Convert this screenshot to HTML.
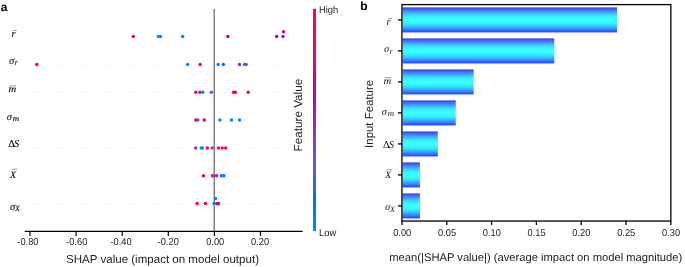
<!DOCTYPE html>
<html><head><meta charset="utf-8"><style>
html,body{margin:0;padding:0;background:#fff;width:685px;height:267px;overflow:hidden}
svg{display:block;will-change:transform;text-rendering:geometricPrecision}

</style></head><body>
<svg width="685" height="267" viewBox="0 0 685 267" font-family='"Liberation Sans", sans-serif'><line x1="25" y1="36.60" x2="297" y2="36.60" stroke="#dcdcdc" stroke-width="0.6" stroke-dasharray="0.6 1.8"/>
<line x1="25" y1="64.43" x2="297" y2="64.43" stroke="#dcdcdc" stroke-width="0.6" stroke-dasharray="0.6 1.8"/>
<line x1="25" y1="92.26" x2="297" y2="92.26" stroke="#dcdcdc" stroke-width="0.6" stroke-dasharray="0.6 1.8"/>
<line x1="25" y1="120.09" x2="297" y2="120.09" stroke="#dcdcdc" stroke-width="0.6" stroke-dasharray="0.6 1.8"/>
<line x1="25" y1="147.92" x2="297" y2="147.92" stroke="#dcdcdc" stroke-width="0.6" stroke-dasharray="0.6 1.8"/>
<line x1="25" y1="175.75" x2="297" y2="175.75" stroke="#dcdcdc" stroke-width="0.6" stroke-dasharray="0.6 1.8"/>
<line x1="25" y1="203.58" x2="297" y2="203.58" stroke="#dcdcdc" stroke-width="0.6" stroke-dasharray="0.6 1.8"/>
<line x1="214.2" y1="9" x2="214.2" y2="231" stroke="#555" stroke-width="1.1"/>
<circle cx="133.3" cy="36.60" r="1.75" fill="#ff0051"/>
<circle cx="158.4" cy="36.60" r="1.75" fill="#008bfb"/>
<circle cx="160.5" cy="36.60" r="1.75" fill="#008bfb"/>
<circle cx="182.7" cy="36.60" r="1.75" fill="#0084f9"/>
<circle cx="227.8" cy="36.60" r="1.75" fill="#bb00a0"/>
<circle cx="276.7" cy="36.60" r="1.75" fill="#bb00a0"/>
<circle cx="283.0" cy="36.60" r="1.75" fill="#ab15a7"/>
<circle cx="283.6" cy="31.70" r="1.75" fill="#bb00a0"/>
<circle cx="36.8" cy="64.43" r="1.75" fill="#ff0051"/>
<circle cx="187.6" cy="64.43" r="1.75" fill="#008bfb"/>
<circle cx="200.1" cy="64.43" r="1.75" fill="#f20072"/>
<circle cx="218.2" cy="64.43" r="1.75" fill="#0088fa"/>
<circle cx="223.3" cy="64.43" r="1.75" fill="#006fed"/>
<circle cx="239.5" cy="64.43" r="1.75" fill="#9135ba"/>
<circle cx="244.6" cy="64.43" r="1.75" fill="#6359da"/>
<circle cx="246.1" cy="64.43" r="1.75" fill="#6359da"/>
<circle cx="195.8" cy="92.26" r="1.75" fill="#ff0051"/>
<circle cx="200.0" cy="92.26" r="1.75" fill="#ab15a7"/>
<circle cx="202.7" cy="92.26" r="1.75" fill="#0088fa"/>
<circle cx="211.3" cy="92.26" r="1.75" fill="#6359da"/>
<circle cx="233.5" cy="92.26" r="1.75" fill="#f20072"/>
<circle cx="235.3" cy="92.26" r="1.75" fill="#f20072"/>
<circle cx="248.2" cy="92.26" r="1.75" fill="#f20072"/>
<circle cx="197.8" cy="120.09" r="1.75" fill="#6359da"/>
<circle cx="195.9" cy="120.09" r="1.75" fill="#ff0051"/>
<circle cx="204.3" cy="120.09" r="1.75" fill="#ff0051"/>
<circle cx="219.9" cy="120.09" r="1.75" fill="#008bfb"/>
<circle cx="231.5" cy="120.09" r="1.75" fill="#008bfb"/>
<circle cx="239.5" cy="120.09" r="1.75" fill="#008bfb"/>
<circle cx="195.6" cy="147.92" r="1.75" fill="#8443c6"/>
<circle cx="201.3" cy="147.92" r="1.75" fill="#008bfb"/>
<circle cx="202.5" cy="147.92" r="1.75" fill="#008bfb"/>
<circle cx="207.3" cy="147.92" r="1.75" fill="#ff0051"/>
<circle cx="212.2" cy="147.92" r="1.75" fill="#8443c6"/>
<circle cx="218.5" cy="147.92" r="1.75" fill="#fe005c"/>
<circle cx="222.2" cy="147.92" r="1.75" fill="#f20072"/>
<circle cx="225.7" cy="147.92" r="1.75" fill="#fe005c"/>
<circle cx="203.5" cy="175.75" r="1.75" fill="#e00086"/>
<circle cx="212.4" cy="175.75" r="1.75" fill="#fe005c"/>
<circle cx="214.3" cy="175.75" r="1.75" fill="#0084f9"/>
<circle cx="216.6" cy="175.75" r="1.75" fill="#fe005c"/>
<circle cx="221.4" cy="175.75" r="1.75" fill="#754fd1"/>
<circle cx="222.9" cy="175.75" r="1.75" fill="#008bfb"/>
<circle cx="224.0" cy="175.75" r="1.75" fill="#008bfb"/>
<circle cx="197.1" cy="203.58" r="1.75" fill="#ff0051"/>
<circle cx="205.4" cy="203.58" r="1.75" fill="#ff0051"/>
<circle cx="214.0" cy="203.58" r="1.75" fill="#0084f9"/>
<circle cx="215.5" cy="198.58" r="1.75" fill="#0084f9"/>
<circle cx="216.8" cy="203.58" r="1.75" fill="#e9007c"/>
<circle cx="218.5" cy="203.58" r="1.75" fill="#bb00a0"/>
<line x1="24.8" y1="231.4" x2="302.6" y2="231.4" stroke="#000" stroke-width="1.25"/>
<line x1="30.00" y1="231.3" x2="30.00" y2="235.9" stroke="#000" stroke-width="1.2"/>
<text transform="translate(27.90,244.6) scale(1,1.07)" font-size="9.3" text-anchor="middle" fill="#222">-0.80</text>
<line x1="76.10" y1="231.3" x2="76.10" y2="235.9" stroke="#000" stroke-width="1.2"/>
<text transform="translate(76.70,244.6) scale(1,1.07)" font-size="9.3" text-anchor="middle" fill="#222">-0.60</text>
<line x1="122.20" y1="231.3" x2="122.20" y2="235.9" stroke="#000" stroke-width="1.2"/>
<text transform="translate(121.10,244.6) scale(1,1.07)" font-size="9.3" text-anchor="middle" fill="#222">-0.40</text>
<line x1="168.30" y1="231.3" x2="168.30" y2="235.9" stroke="#000" stroke-width="1.2"/>
<text transform="translate(168.20,244.6) scale(1,1.07)" font-size="9.3" text-anchor="middle" fill="#222">-0.20</text>
<line x1="214.40" y1="231.3" x2="214.40" y2="235.9" stroke="#000" stroke-width="1.2"/>
<text transform="translate(215.20,244.6) scale(1,1.07)" font-size="9.3" text-anchor="middle" fill="#222">0.00</text>
<line x1="260.50" y1="231.3" x2="260.50" y2="235.9" stroke="#000" stroke-width="1.2"/>
<text transform="translate(260.10,244.6) scale(1,1.07)" font-size="9.3" text-anchor="middle" fill="#222">0.20</text>
<text transform="translate(66.0,263.2) scale(1,1.0)" font-size="11.56" fill="#222">SHAP value (impact on model output)</text>
<defs><linearGradient id="cb" x1="0" y1="0" x2="0" y2="1"><stop offset="0.00" stop-color="#ff0051"/><stop offset="0.05" stop-color="#fe005c"/><stop offset="0.10" stop-color="#f90067"/><stop offset="0.15" stop-color="#f20072"/><stop offset="0.20" stop-color="#e9007c"/><stop offset="0.25" stop-color="#e00086"/><stop offset="0.30" stop-color="#d5008f"/><stop offset="0.35" stop-color="#c80098"/><stop offset="0.40" stop-color="#bb00a0"/><stop offset="0.45" stop-color="#ab15a7"/><stop offset="0.50" stop-color="#9b23ad"/><stop offset="0.55" stop-color="#9135ba"/><stop offset="0.60" stop-color="#8443c6"/><stop offset="0.65" stop-color="#754fd1"/><stop offset="0.70" stop-color="#6359da"/><stop offset="0.75" stop-color="#4b63e3"/><stop offset="0.80" stop-color="#236cea"/><stop offset="0.85" stop-color="#0074f0"/><stop offset="0.90" stop-color="#007cf5"/><stop offset="0.95" stop-color="#0084f9"/><stop offset="1.00" stop-color="#008bfb"/></linearGradient><linearGradient id="bar" x1="0" y1="0" x2="0" y2="1"><stop offset="0.000" stop-color="#3833ff"/><stop offset="0.050" stop-color="#3853ff"/><stop offset="0.100" stop-color="#3872ff"/><stop offset="0.150" stop-color="#3890ff"/><stop offset="0.200" stop-color="#38abff"/><stop offset="0.250" stop-color="#38c3ff"/><stop offset="0.300" stop-color="#38d8ff"/><stop offset="0.350" stop-color="#38e9ff"/><stop offset="0.400" stop-color="#38f5ff"/><stop offset="0.450" stop-color="#38fcff"/><stop offset="0.500" stop-color="#38ffff"/><stop offset="0.550" stop-color="#38fcff"/><stop offset="0.600" stop-color="#38f5ff"/><stop offset="0.650" stop-color="#38e9ff"/><stop offset="0.700" stop-color="#38d8ff"/><stop offset="0.750" stop-color="#38c3ff"/><stop offset="0.800" stop-color="#38abff"/><stop offset="0.850" stop-color="#3890ff"/><stop offset="0.900" stop-color="#3872ff"/><stop offset="0.950" stop-color="#3853ff"/><stop offset="1.000" stop-color="#3833ff"/></linearGradient></defs>
<rect x="313" y="8.8" width="3" height="222.3" fill="url(#cb)"/>
<text transform="translate(319,12.9) scale(1,1.05)" font-size="9.4" fill="#222">High</text>
<text transform="translate(319,235.6) scale(1,1.05)" font-size="9.4" fill="#222">Low</text>
<text transform="translate(301.9,151.4) rotate(-90)" font-size="11.7" fill="#222">Feature Value</text>
<text x="0.8" y="10.5" font-size="12" font-weight="bold" fill="#000">a</text>
<text x="360.3" y="9.7" font-size="12" font-weight="bold" fill="#000">b</text>
<rect x="402.5" y="7.40" width="214.54" height="25" fill="url(#bar)"/>
<rect x="402.5" y="38.40" width="151.82" height="25" fill="url(#bar)"/>
<rect x="402.5" y="69.40" width="71.18" height="25" fill="url(#bar)"/>
<rect x="402.5" y="100.40" width="53.26" height="25" fill="url(#bar)"/>
<rect x="402.5" y="131.40" width="35.34" height="25" fill="url(#bar)"/>
<rect x="402.5" y="162.40" width="17.42" height="25" fill="url(#bar)"/>
<rect x="402.5" y="193.40" width="17.42" height="25" fill="url(#bar)"/>
<rect x="401.95" y="4.6" width="268.9" height="216.45" fill="none" stroke="#000" stroke-width="1.3"/>
<line x1="397.9" y1="19.90" x2="402" y2="19.90" stroke="#000" stroke-width="1.3"/>
<line x1="397.9" y1="50.90" x2="402" y2="50.90" stroke="#000" stroke-width="1.3"/>
<line x1="397.9" y1="81.90" x2="402" y2="81.90" stroke="#000" stroke-width="1.3"/>
<line x1="397.9" y1="112.90" x2="402" y2="112.90" stroke="#000" stroke-width="1.3"/>
<line x1="397.9" y1="143.90" x2="402" y2="143.90" stroke="#000" stroke-width="1.3"/>
<line x1="397.9" y1="174.90" x2="402" y2="174.90" stroke="#000" stroke-width="1.3"/>
<line x1="397.9" y1="205.90" x2="402" y2="205.90" stroke="#000" stroke-width="1.3"/>
<line x1="402.00" y1="220.8" x2="402.00" y2="224.9" stroke="#000" stroke-width="1.3"/>
<text transform="translate(402.20,235.8) scale(1,1.07)" font-size="9.3" text-anchor="middle" fill="#222">0.00</text>
<line x1="446.80" y1="220.8" x2="446.80" y2="224.9" stroke="#000" stroke-width="1.3"/>
<text transform="translate(447.00,235.8) scale(1,1.07)" font-size="9.3" text-anchor="middle" fill="#222">0.05</text>
<line x1="491.60" y1="220.8" x2="491.60" y2="224.9" stroke="#000" stroke-width="1.3"/>
<text transform="translate(491.80,235.8) scale(1,1.07)" font-size="9.3" text-anchor="middle" fill="#222">0.10</text>
<line x1="536.40" y1="220.8" x2="536.40" y2="224.9" stroke="#000" stroke-width="1.3"/>
<text transform="translate(536.60,235.8) scale(1,1.07)" font-size="9.3" text-anchor="middle" fill="#222">0.15</text>
<line x1="581.20" y1="220.8" x2="581.20" y2="224.9" stroke="#000" stroke-width="1.3"/>
<text transform="translate(581.40,235.8) scale(1,1.07)" font-size="9.3" text-anchor="middle" fill="#222">0.20</text>
<line x1="626.00" y1="220.8" x2="626.00" y2="224.9" stroke="#000" stroke-width="1.3"/>
<text transform="translate(626.20,235.8) scale(1,1.07)" font-size="9.3" text-anchor="middle" fill="#222">0.25</text>
<line x1="670.80" y1="220.8" x2="670.80" y2="224.9" stroke="#000" stroke-width="1.3"/>
<text transform="translate(671.00,235.8) scale(1,1.07)" font-size="9.3" text-anchor="middle" fill="#222">0.30</text>
<text x="389.3" y="261.45" font-size="11.2" fill="#222">mean(|SHAP value|) (average impact on model magnitude)</text>
<text transform="translate(373,147.9) rotate(-90)" font-size="11.45" fill="#222">Input Feature</text>
<text transform="translate(11.60,36.50) scale(1.0,1)" font-family="Liberation Serif, serif" font-style="italic" font-size="10.2" text-anchor="start" fill="#111" stroke="#111" stroke-width="0.15">r</text>
<line x1="13.20" y1="30.40" x2="16.70" y2="30.40" stroke="#666" stroke-width="0.7"/>
<text transform="translate(9.10,63.60) scale(1.0,1)" font-family="Liberation Serif, serif" font-style="italic" font-size="10.5" text-anchor="start" fill="#111" stroke="#111" stroke-width="0.15">σ</text>
<text transform="translate(14.70,65.00) scale(1.0,1)" font-family="Liberation Serif, serif" font-style="italic" font-size="8.0" text-anchor="start" fill="#111" stroke="#111" stroke-width="0.15">r</text>
<text transform="translate(8.50,92.00) scale(1.12,1)" font-family="Liberation Serif, serif" font-style="italic" font-size="9.6" text-anchor="start" fill="#111" stroke="#111" stroke-width="0.15">m</text>
<line x1="9.90" y1="85.90" x2="15.90" y2="85.90" stroke="#666" stroke-width="0.7"/>
<text transform="translate(6.80,119.75) scale(1.0,1)" font-family="Liberation Serif, serif" font-style="italic" font-size="10.3" text-anchor="start" fill="#111" stroke="#111" stroke-width="0.15">σ</text>
<text transform="translate(12.80,120.65) scale(1.1,1)" font-family="Liberation Serif, serif" font-style="italic" font-size="8.0" text-anchor="start" fill="#111" stroke="#111" stroke-width="0.15">m</text>
<text transform="translate(8.20,147.30) scale(1.0,1)" font-family="Liberation Serif, serif" font-size="10.5" text-anchor="start" fill="#111" stroke="#111" stroke-width="0.15">Δ</text>
<text transform="translate(13.90,147.30) scale(1.0,1)" font-family="Liberation Serif, serif" font-style="italic" font-size="10.5" text-anchor="start" fill="#111" stroke="#111" stroke-width="0.15">S</text>
<text transform="translate(10.10,177.60) scale(1.0,1)" font-family="Liberation Serif, serif" font-style="italic" font-size="10.0" text-anchor="start" fill="#111" stroke="#111" stroke-width="0.15">X</text>
<line x1="12.00" y1="169.20" x2="17.30" y2="169.20" stroke="#666" stroke-width="0.7"/>
<text transform="translate(10.10,209.50) scale(1.0,1)" font-family="Liberation Serif, serif" font-style="italic" font-size="10.5" text-anchor="start" fill="#111" stroke="#111" stroke-width="0.15">σ</text>
<text transform="translate(15.00,211.20) scale(1.0,1)" font-family="Liberation Serif, serif" font-style="italic" font-size="8.0" text-anchor="start" fill="#111" stroke="#111" stroke-width="0.15">X</text>
<text transform="translate(386.50,24.70) scale(1.0,1)" font-family="Liberation Serif, serif" font-style="italic" font-size="10.2" text-anchor="start" fill="#111" stroke="#111" stroke-width="0.0">r</text>
<line x1="388.10" y1="18.60" x2="391.60" y2="18.60" stroke="#666" stroke-width="0.7"/>
<text transform="translate(384.00,52.40) scale(1.0,1)" font-family="Liberation Serif, serif" font-style="italic" font-size="10.5" text-anchor="start" fill="#111" stroke="#111" stroke-width="0.0">σ</text>
<text transform="translate(389.60,53.80) scale(1.0,1)" font-family="Liberation Serif, serif" font-style="italic" font-size="8.0" text-anchor="start" fill="#111" stroke="#111" stroke-width="0.0">r</text>
<text transform="translate(383.40,83.80) scale(1.12,1)" font-family="Liberation Serif, serif" font-style="italic" font-size="9.6" text-anchor="start" fill="#111" stroke="#111" stroke-width="0.0">m</text>
<line x1="384.80" y1="77.70" x2="390.80" y2="77.70" stroke="#666" stroke-width="0.7"/>
<text transform="translate(381.70,115.00) scale(1.0,1)" font-family="Liberation Serif, serif" font-style="italic" font-size="10.3" text-anchor="start" fill="#111" stroke="#111" stroke-width="0.0">σ</text>
<text transform="translate(387.70,115.90) scale(1.1,1)" font-family="Liberation Serif, serif" font-style="italic" font-size="8.0" text-anchor="start" fill="#111" stroke="#111" stroke-width="0.0">m</text>
<text transform="translate(383.10,148.30) scale(1.0,1)" font-family="Liberation Serif, serif" font-size="10.5" text-anchor="start" fill="#111" stroke="#111" stroke-width="0.0">Δ</text>
<text transform="translate(388.80,148.30) scale(1.0,1)" font-family="Liberation Serif, serif" font-style="italic" font-size="10.5" text-anchor="start" fill="#111" stroke="#111" stroke-width="0.0">S</text>
<text transform="translate(385.00,178.20) scale(1.0,1)" font-family="Liberation Serif, serif" font-style="italic" font-size="10.0" text-anchor="start" fill="#111" stroke="#111" stroke-width="0.0">X</text>
<line x1="386.90" y1="169.80" x2="392.20" y2="169.80" stroke="#666" stroke-width="0.7"/>
<text transform="translate(385.00,210.20) scale(1.0,1)" font-family="Liberation Serif, serif" font-style="italic" font-size="10.5" text-anchor="start" fill="#111" stroke="#111" stroke-width="0.0">σ</text>
<text transform="translate(389.90,211.90) scale(1.0,1)" font-family="Liberation Serif, serif" font-style="italic" font-size="8.0" text-anchor="start" fill="#111" stroke="#111" stroke-width="0.0">X</text></svg>
</body></html>
